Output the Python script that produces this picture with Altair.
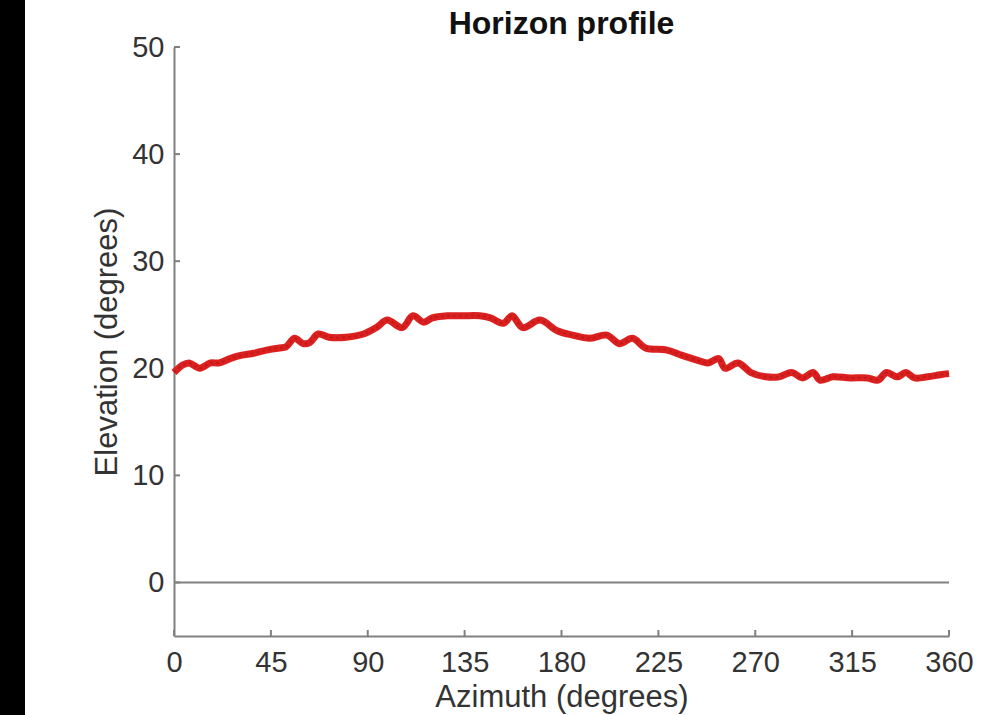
import altair as alt
import pandas as pd

# Horizon profile: elevation of the skyline against azimuth
azimuth = [0, 4, 7, 12, 17, 21, 26, 31, 37, 43,
           49, 52, 56, 60, 63, 67, 72, 80, 88, 94,
           99, 106, 111, 116, 120, 127, 134, 142, 147, 153,
           157, 162, 170, 178, 185, 193, 201, 207, 213, 219,
           229, 236, 244, 248, 253, 256, 262, 268, 275, 281,
           287, 292, 297, 300, 306, 314, 322, 327, 331, 336,
           340, 344, 350, 356, 360]
elevation = [19.6, 20.3, 20.5, 20.0, 20.5, 20.5, 20.9, 21.2, 21.4, 21.7,
             21.9, 22.0, 22.8, 22.3, 22.4, 23.2, 22.9, 22.9, 23.2, 23.8,
             24.5, 23.8, 24.9, 24.3, 24.7, 24.9, 24.9, 24.9, 24.7, 24.2,
             24.9, 23.8, 24.5, 23.5, 23.1, 22.8, 23.1, 22.3, 22.8, 21.9,
             21.7, 21.2, 20.7, 20.5, 20.9, 20.0, 20.5, 19.6, 19.2, 19.2,
             19.6, 19.1, 19.6, 18.9, 19.2, 19.1, 19.1, 18.9, 19.6, 19.2,
             19.6, 19.1, 19.2, 19.4, 19.5]
x_ticks = [0, 45, 90, 135, 180, 225, 270, 315, 360]
y_ticks = [0, 10, 20, 30, 40, 50]
title_text = "Horizon profile"

W, H = 775, 589
FONT = "Liberation Sans"
AXIS_GREY = "#808080"
TEXT = "#333333"

df = pd.DataFrame({"az": azimuth, "el": elevation})

x_scale = alt.Scale(domain=[0, 360], nice=False, zero=False)
y_scale = alt.Scale(domain=[-5, 50], nice=False, zero=False)

x_axis = alt.Axis(values=x_ticks, tickSize=0, grid=False, labelPadding=12,
                  labelFlush=False,
                  title="Azimuth (degrees)", titleX=W / 2, titleY=61,
                  titleBaseline="middle", titleAlign="center")
y_axis = alt.Axis(values=y_ticks, tickSize=0, grid=False, labelPadding=10,
                  labelFlush=False,
                  title="Elevation (degrees)", titleX=-67, titleY=H / 2,
                  titleAngle=270, titleBaseline="middle", titleAlign="center")

base = alt.Chart(df)

profile = base.mark_line(color="#dc2020", strokeWidth=7,
                         interpolate="catmull-rom").encode(
    x=alt.X("az:Q", scale=x_scale, axis=x_axis),
    y=alt.Y("el:Q", scale=y_scale, axis=y_axis),
)
profile_dash = base.mark_line(color="#a81414", strokeWidth=2, opacity=0.5,
                              strokeDash=[3, 3], interpolate="catmull-rom").encode(
    x=alt.X("az:Q", scale=x_scale),
    y=alt.Y("el:Q", scale=y_scale),
)

zero_line = alt.Chart(pd.DataFrame({"y": [0]})).mark_rule(
    color=AXIS_GREY, strokeWidth=2).encode(y=alt.Y("y:Q", scale=y_scale))

# inward-pointing tick marks
xt = alt.Chart(pd.DataFrame({"t": x_ticks})).mark_rule(
    color=AXIS_GREY, strokeWidth=2).encode(
    x=alt.X("t:Q", scale=x_scale), y=alt.value(H), y2=alt.value(H - 6))
yt = alt.Chart(pd.DataFrame({"t": y_ticks})).mark_rule(
    color=AXIS_GREY, strokeWidth=2).encode(
    y=alt.Y("t:Q", scale=y_scale), x=alt.value(0), x2=alt.value(6))

# dark band along the left edge of the figure
band = alt.Chart(pd.DataFrame({"a": [0]})).mark_rect(color="black", clip=False).encode(
    x=alt.value(-174), x2=alt.value(-149), y=alt.value(-47), y2=alt.value(H + 79))

# chart heading, centred over the plot area
heading = alt.Chart(pd.DataFrame({"label": [title_text]})).mark_text(
    font=FONT, fontSize=32, fontWeight="bold", color="#111111",
    align="center", baseline="alphabetic").encode(
    text="label:N", x=alt.value(W / 2), y=alt.value(-13))

chart = alt.layer(band, zero_line, xt, yt, profile, profile_dash, heading).properties(
    width=W, height=H,
    padding={"left": 174, "top": 47, "right": 48, "bottom": 79},
    autosize=alt.AutoSizeParams(type="none"),
    background="white",
).configure_axis(
    domainColor=AXIS_GREY, domainWidth=2,
    labelFont=FONT, labelFontSize=29, labelColor=TEXT,
    titleFont=FONT, titleFontSize=31, titleColor=TEXT, titleFontWeight="normal",
).configure_view(stroke=None)

chart.save("out.html", embed_options={"renderer": "svg", "actions": False})
